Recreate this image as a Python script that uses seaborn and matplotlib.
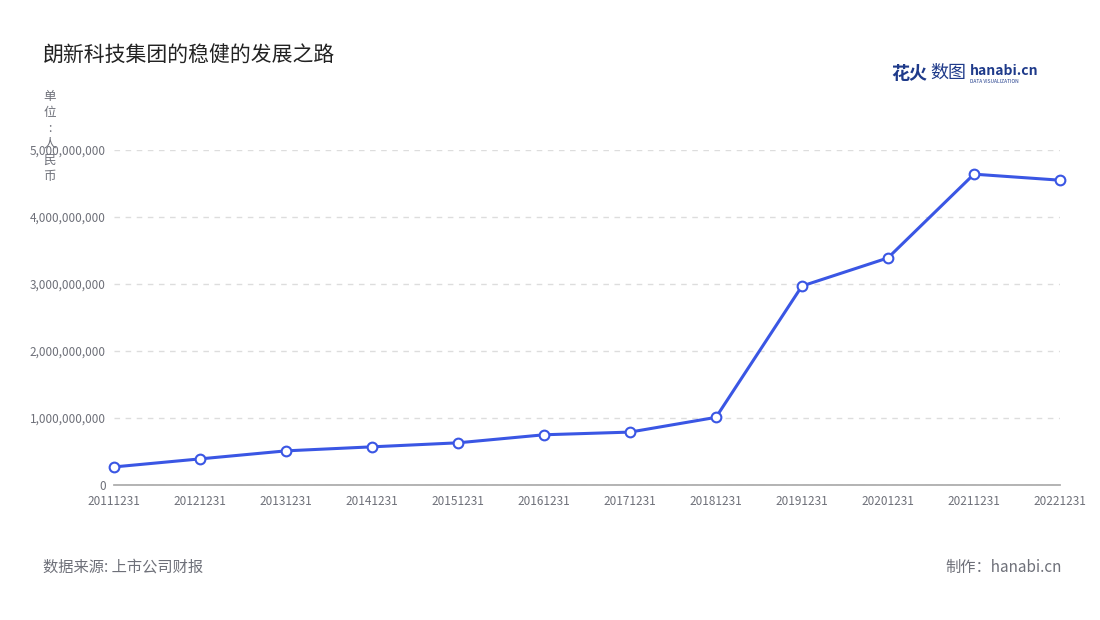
import matplotlib
matplotlib.use("Agg")
import matplotlib.pyplot as plt
import seaborn as sns
import pandas as pd

years = ["20111231","20121231","20131231","20141231","20151231","20161231",
         "20171231","20181231","20191231","20201231","20211231","20221231"]
revenue = [0.27e9,0.39e9,0.51e9,0.57e9,0.63e9,0.75e9,0.79e9,1.01e9,2.97e9,3.39e9,4.64e9,4.55e9]
yticks = [0,1e9,2e9,3e9,4e9,5e9]

sns.set_theme(style="white")
plt.rcParams['font.family'] = ['Noto Sans CJK SC', 'DejaVu Sans']

fig = plt.figure(figsize=(11, 6.2), dpi=100)
ax = fig.add_axes([0.1036, 0.2177, 0.86, 0.5403])
df = pd.DataFrame({"x": range(len(years)), "y": revenue})
sns.lineplot(data=df, x="x", y="y", ax=ax, color="#3a56e4", linewidth=2.2,
             marker="o", markersize=7, markerfacecolor="white",
             markeredgecolor="#3a56e4", markeredgewidth=1.5, clip_on=False)
ax.set_xlim(0, len(years)-1)
ax.set_ylim(0, 5e9)
ax.set_xticks(range(len(years)))
ax.set_xticklabels(years, fontsize=8.5, color="#6e7079")
ax.set_yticks(yticks)
ax.set_yticklabels([f"{int(v):,}" for v in yticks], fontsize=8.5, color="#6e7079")
ax.set_xlabel(""); ax.set_ylabel("")
for s in ["top", "right", "left"]:
    ax.spines[s].set_visible(False)
ax.spines["bottom"].set_color("#aaaaaa")
ax.yaxis.grid(True, linestyle=(0, (4, 4)), color="#dddddd", linewidth=1)
ax.tick_params(axis="x", length=4, color="#aaaaaa", pad=3)
ax.tick_params(axis="y", length=0, pad=6)

fig.text(0.039, 0.91, "朗新科技集团的稳健的发展之路", fontsize=15, color="#222222", va="center")
fig.text(0.045, 0.78, "单\n位\n:\n人\n民\n币", fontsize=9, color="#6e7079",
         ha="center", va="center", linespacing=1.3)
fig.text(0.039, 0.085, "数据来源: 上市公司财报", fontsize=11, color="#6e7079", va="center")
fig.text(0.965, 0.085, "制作：hanabi.cn", fontsize=11, color="#6e7079", va="center", ha="right")
fig.text(0.81, 0.882, "花火", fontsize=13, color="#1e3a8a", fontweight="bold", va="center")
fig.text(0.846, 0.882, "数图", fontsize=13, color="#1e3a8a", va="center")
fig.text(0.882, 0.886, "hanabi.cn", fontsize=10, color="#1e3a8a", fontweight="bold", va="center")
fig.text(0.882, 0.868, "DATA VISUALIZATION", fontsize=3.5, color="#1e3a8a", va="center")

fig.savefig("out.png", dpi=100)
